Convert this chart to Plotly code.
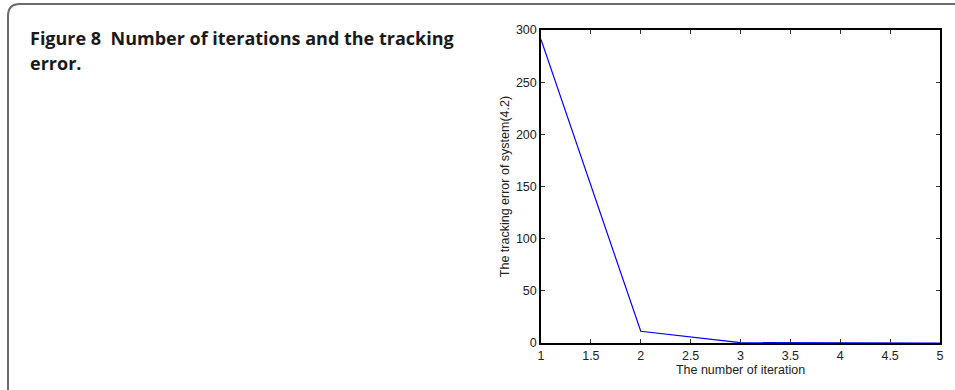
import plotly.graph_objects as go

# Tracking error per iteration
iterations = [1, 2, 3, 4, 5]
tracking_error = [291, 11.2, 0.3, 0.03, 0.01]

x_ticks = [1, 1.5, 2, 2.5, 3, 3.5, 4, 4.5, 5]
x_tick_labels = ["1", "1.5", "2", "2.5", "3", "3.5", "4", "4.5", "5"]
y_ticks = [0, 50, 100, 150, 200, 250, 300]
y_tick_labels = ["0", "50", "100", "150", "200", "250", "300"]

caption_lines = ["Figure 8  Number of iterations and the tracking", "error."]

W, H = 955, 390
ML, MR, MT, MB = 541, 15, 30, 47
PW = W - ML - MR
PH = H - MT - MB


def px(x):
    return (x - ML) / PW


def py(y):
    return (H - MB - y) / PH


fig = go.Figure()
fig.add_trace(go.Scatter(
    x=iterations, y=tracking_error, mode="lines",
    line=dict(color="#0000ff", width=1.2),
    showlegend=False, cliponaxis=False,
))

axis_font = dict(family="Liberation Sans, Arial, sans-serif", size=12.5, color="#222")

fig.update_xaxes(
    range=[1, 5], tickvals=x_ticks, ticktext=x_tick_labels,
    ticks="inside", ticklen=4, tickcolor="#333", tickwidth=1,
    showline=True, linecolor="#000", linewidth=1.5, mirror="ticks",
    showgrid=False, zeroline=False, tickfont=axis_font,
    title=dict(text="The number of iteration", font=axis_font, standoff=0),
)
fig.update_yaxes(
    range=[0, 300], tickvals=y_ticks, ticktext=y_tick_labels,
    ticks="inside", ticklen=4, tickcolor="#333", tickwidth=1,
    showline=True, linecolor="#000", linewidth=1.5, mirror="ticks",
    showgrid=False, zeroline=False, tickfont=axis_font,
    title=dict(text="The tracking error of system(4.2)", font=axis_font, standoff=4),
)

# Rounded frame around the figure, open to the right and bottom
r = 12
x0, y0 = 8, 4
x1, y1 = W + 10, H + 10
path = (
    f"M {px(x0)} {py(y1)} L {px(x0)} {py(y0 + r)} "
    f"Q {px(x0)} {py(y0)} {px(x0 + r)} {py(y0)} L {px(x1)} {py(y0)}"
)
fig.add_shape(type="path", xref="paper", yref="paper", path=path,
              line=dict(color="#6b6b6b", width=2))

caption_font = dict(family="Open Sans, Noto Sans, sans-serif", size=18, color="#1a1a1a")
for i, line in enumerate(caption_lines):
    fig.add_annotation(
        xref="paper", yref="paper", x=px(28), y=py(24 + 25 * i),
        xanchor="left", yanchor="top", align="left", showarrow=False,
        text=f"<b>{line}</b>", font=caption_font,
    )

fig.update_layout(
    width=W, height=H,
    margin=dict(l=ML, r=MR, t=MT, b=MB),
    paper_bgcolor="white", plot_bgcolor="white",
)

fig.write_html("out.html")
